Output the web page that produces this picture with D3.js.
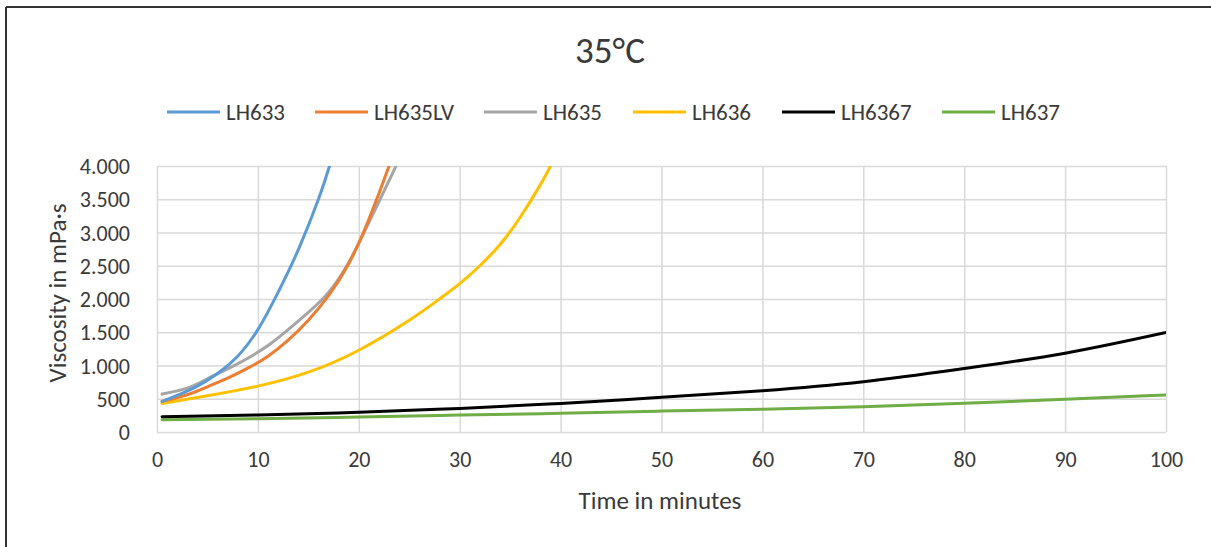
<!DOCTYPE html>
<html>
<head>
<meta charset="utf-8">
<script src="https://cdn.jsdelivr.net/npm/d3@7"></script>
<style>
  html, body { margin: 0; padding: 0; background: #fff; }
  svg text { font-family: Carlito, Lato, "Open Sans", sans-serif; fill: #3a3a3a; }
</style>
</head>
<body>
<svg id="chart" width="1211" height="547"></svg>
<script>
// ---- data ----
const seriesNames = ["LH633", "LH635LV", "LH635", "LH636", "LH6367", "LH637"];
const seriesColors = ["#5B9BD5", "#ED7D31", "#A5A5A5", "#FFC000", "#000000", "#70AD47"];

const tLH633   = [0.5, 2, 4, 6, 8, 10, 12, 14, 16, 17.1, 18];
const vLH633   = [460, 550, 690, 880, 1140, 1540, 2100, 2740, 3500, 4000, 4450];

const tLH635LV = [0.5, 3, 5, 7, 9, 11, 13, 15, 17, 19, 21, 23, 24];
const vLH635LV = [460, 560, 680, 810, 960, 1140, 1380, 1680, 2050, 2530, 3200, 4000, 4450];

const tLH635   = [0.5, 3, 5, 7, 9, 11, 13, 15, 17, 19, 21, 23, 24];
const vLH635   = [570, 660, 800, 950, 1110, 1300, 1540, 1800, 2100, 2550, 3150, 3780, 4100];

const tLH636   = [0.5, 5, 10, 15, 20, 25, 28, 30, 32, 34, 36, 38, 39, 40];
const vLH636   = [430, 545, 690, 900, 1230, 1680, 2000, 2230, 2500, 2820, 3230, 3720, 4000, 4300];

const tLH6367  = [0.5, 10, 20, 30, 40, 50, 60, 70, 80, 90, 100];
const vLH6367  = [230, 255, 296, 355, 430, 521, 621, 756, 954, 1184, 1495];

const tLH637   = [0.5, 10, 20, 30, 40, 50, 60, 70, 80, 90, 100];
const vLH637   = [185, 200, 225, 255, 281, 315, 341, 380, 432, 492, 557];

const xTicks = [0, 10, 20, 30, 40, 50, 60, 70, 80, 90, 100];
const yTicks = [0, 500, 1000, 1500, 2000, 2500, 3000, 3500, 4000];

const titleText = "35°C";
const xTitle = "Time in minutes";
const yTitle = "Viscosity in mPa·s";

// ---- build ----
const seriesT = [tLH633, tLH635LV, tLH635, tLH636, tLH6367, tLH637];
const seriesV = [vLH633, vLH635LV, vLH635, vLH636, vLH6367, vLH637];
const series = seriesNames.map((name, i) => ({
  name, color: seriesColors[i],
  points: seriesT[i].map((t, j) => ({ t, v: seriesV[i][j] }))
}));

const svg = d3.select("#chart");
const W = 1211, H = 547;
const plot = { left: 157, right: 1166, top: 166, bottom: 432 };
const FONT = "Carlito, Lato, 'Open Sans', sans-serif";

// outer frame (top and left edges visible)
svg.append("rect").attr("x", 0).attr("y", 0).attr("width", W).attr("height", H).attr("fill", "#fff");
svg.append("line").attr("x1", 6).attr("x2", W).attr("y1", 7).attr("y2", 7).attr("stroke", "#333").attr("stroke-width", 2);
svg.append("line").attr("x1", 6).attr("x2", 6).attr("y1", 7).attr("y2", H).attr("stroke", "#333").attr("stroke-width", 2);

const x = d3.scaleLinear().domain([0, 100]).range([plot.left, plot.right]);
const y = d3.scaleLinear().domain([0, 4000]).range([plot.bottom, plot.top]);

const loc = d3.formatLocale({ decimal: ",", thousands: ".", grouping: [3], currency: ["", ""] });
const yFmt = loc.format(",d");

// grid + axes
const gx = svg.append("g").attr("transform", `translate(0,${plot.bottom})`)
  .call(d3.axisBottom(x).tickValues(xTicks).tickSize(-(plot.bottom - plot.top)).tickPadding(22).tickFormat(d3.format("d")));
const gy = svg.append("g").attr("transform", `translate(${plot.left},0)`)
  .call(d3.axisLeft(y).tickValues(yTicks).tickSize(-(plot.right - plot.left)).tickPadding(27).tickFormat(yFmt));
[gx, gy].forEach(g => {
  g.select(".domain").remove();
  g.selectAll(".tick line").attr("stroke", "#d9d9d9").attr("stroke-width", 1.5);
  g.selectAll(".tick text").attr("font-size", 22).attr("fill", "#3a3a3a").style("font-family", FONT);
});
gy.selectAll(".tick text").attr("dy", "0.35em");
gx.selectAll(".tick text").attr("dy", "0.6em");

// lines
svg.append("clipPath").attr("id", "clip").append("rect")
  .attr("x", plot.left).attr("y", plot.top).attr("width", plot.right - plot.left).attr("height", plot.bottom - plot.top);
const line = d3.line().x(d => x(d.t)).y(d => y(d.v)).curve(d3.curveNatural);
svg.append("g").attr("clip-path", "url(#clip)")
  .selectAll("path").data(series.slice().reverse()).join("path")
  .attr("d", d => line(d.points))
  .attr("fill", "none").attr("stroke", d => d.color).attr("stroke-width", 3)
  .attr("stroke-linecap", "round");

// title
svg.append("text").attr("x", 610).attr("y", 63).attr("text-anchor", "middle")
  .attr("font-size", 37).text(titleText);

// legend
const legendX = [167, 315, 484, 633, 782, 942];
const lg = svg.append("g").selectAll("g").data(series).join("g")
  .attr("transform", (d, i) => `translate(${legendX[i]},112)`);
lg.append("line").attr("x1", 0).attr("x2", 53).attr("y1", 0).attr("y2", 0)
  .attr("stroke", d => d.color).attr("stroke-width", 3);
lg.append("text").attr("x", 59).attr("y", 0).attr("dy", "0.36em")
  .attr("font-size", 23).text(d => d.name);

// axis titles
svg.append("text").attr("x", 660).attr("y", 509).attr("text-anchor", "middle")
  .attr("font-size", 25).text(xTitle);
svg.append("text").attr("transform", "translate(66,293) rotate(-90)").attr("text-anchor", "middle")
  .attr("font-size", 25).text(yTitle);
</script>
</body>
</html>
